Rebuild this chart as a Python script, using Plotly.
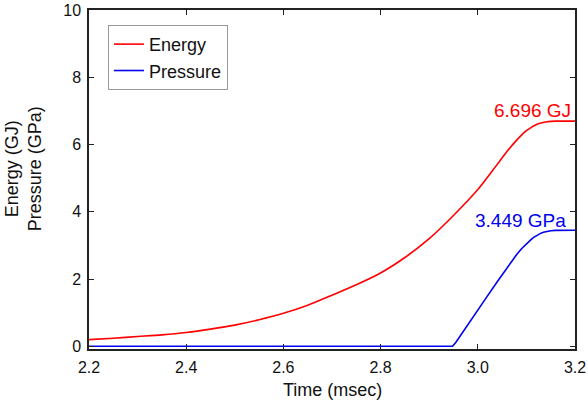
import plotly.graph_objects as go

# Energy curve (GJ)
energy_t = [2.2, 2.25, 2.3, 2.35, 2.4, 2.45, 2.5, 2.55, 2.6, 2.65, 2.7, 2.75, 2.8, 2.85, 2.9,
            2.95, 3.0, 3.02, 3.04, 3.06, 3.08, 3.09, 3.1, 3.11, 3.12, 3.13, 3.14, 3.15,
            3.16, 3.18, 3.2]
energy_v = [0.2, 0.24, 0.29, 0.34, 0.41, 0.51, 0.63, 0.79, 0.98, 1.22, 1.52, 1.83, 2.18, 2.64, 3.2,
            3.89, 4.66, 5.03, 5.41, 5.79, 6.13, 6.28, 6.41, 6.51, 6.59, 6.64, 6.67, 6.688,
            6.695, 6.696, 6.696]

# Pressure curve (GPa)
pressure_t = [2.2, 2.948, 2.955, 2.97, 2.985, 3.0, 3.02, 3.04, 3.06, 3.07, 3.08, 3.09, 3.1,
              3.105, 3.11, 3.115, 3.12, 3.125, 3.13, 3.135, 3.14, 3.145, 3.15, 3.16, 3.17, 3.2]
pressure_v = [0.0, 0.0, 0.12, 0.43, 0.76, 1.08, 1.5, 1.92, 2.34, 2.54, 2.73, 2.9, 3.05,
              3.12, 3.18, 3.24, 3.29, 3.33, 3.365, 3.39, 3.41, 3.425, 3.435, 3.446, 3.449, 3.449]

x_ticks = [2.2, 2.4, 2.6, 2.8, 3.0, 3.2]
x_tick_labels = ["2.2", "2.4", "2.6", "2.8", "3.0", "3.2"]
y_ticks = [0, 2, 4, 6, 8, 10]

energy_label = "6.696 GJ"
pressure_label = "3.449 GPa"

FONT = "Liberation Sans, Arial, sans-serif"

fig = go.Figure()
fig.add_trace(go.Scatter(x=energy_t, y=energy_v, mode="lines", name="Energy",
                         line=dict(color="#ff0000", width=1.6, shape="spline", smoothing=0.8)))
fig.add_trace(go.Scatter(x=pressure_t, y=pressure_v, mode="lines", name="Pressure",
                         line=dict(color="#0000ee", width=1.6)))

fig.add_annotation(x=3.196, y=7.0, text=energy_label, showarrow=False, xanchor="right",
                   yanchor="middle", font=dict(family=FONT, size=19, color="#ff0000"))
fig.add_annotation(x=3.186, y=3.74, text=pressure_label, showarrow=False, xanchor="right",
                   yanchor="middle", font=dict(family=FONT, size=19, color="#0000ee"))

# y axis title (two lines)
fig.add_annotation(xref="paper", yref="paper", x=0, y=0.53, xshift=-66,
                   text="Energy (GJ)<br>Pressure (GPa)",
                   textangle=-90, showarrow=False, xanchor="center", yanchor="middle",
                   font=dict(family=FONT, size=18, color="#111"))
# x axis title
fig.add_annotation(xref="paper", yref="paper", x=0.5, y=0, yshift=-41,
                   text="Time (msec)", showarrow=False, xanchor="center", yanchor="middle",
                   font=dict(family=FONT, size=18, color="#111"))

fig.update_layout(
    width=588, height=404,
    margin=dict(l=89, r=13, t=10, b=55),
    paper_bgcolor="white", plot_bgcolor="white",
    font=dict(family=FONT, size=16, color="#111"),
    showlegend=True,
    legend=dict(x=0.039, y=0.956, xanchor="left", yanchor="top",
                bgcolor="white", bordercolor="#999", borderwidth=1,
                font=dict(family=FONT, size=18), tracegroupgap=0, itemwidth=30),
    xaxis=dict(range=[2.2, 3.2], tickvals=x_ticks, ticktext=x_tick_labels, automargin=False,
               ticks="inside", ticklen=5, tickcolor="#222", showline=True, linecolor="#222",
               linewidth=1.5, mirror="ticks", showgrid=False, zeroline=False,
               ticklabelstandoff=3),
    yaxis=dict(range=[-0.08, 10], tickvals=y_ticks, ticks="inside", ticklen=5, tickcolor="#222",
               showline=True, linecolor="#222", linewidth=1.5, mirror="ticks", automargin=False,
               showgrid=False, zeroline=False, ticklabelstandoff=3),
)

fig.write_html("out.html", config={"displayModeBar": False},
               post_script="document.body.style.margin='0';document.body.style.overflow='hidden';")
